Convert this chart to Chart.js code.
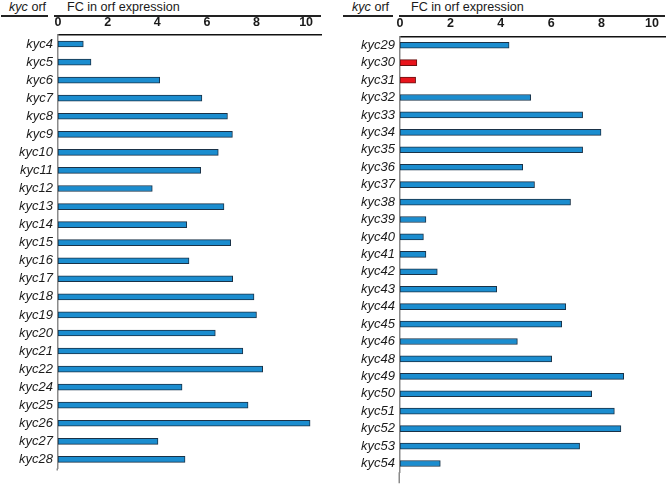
<!DOCTYPE html>
<html>
<head>
<meta charset="utf-8">
<script src="https://cdn.jsdelivr.net/npm/chart.js@4"></script>
<style>
  body { margin: 0; background: #fff; font-family: "Liberation Sans", Arial, sans-serif; color: #1a1a1a; }
  #wrap { position: relative; width: 666px; height: 485px; overflow: hidden; }
  .txt { position: absolute; top: 0px; font-size: 12.6px; white-space: nowrap; }
  .ln { position: absolute; top: 15px; height: 1.5px; background: #222; }
  canvas { position: absolute; top: 0; }
</style>
</head>
<body>
<div id="wrap">
  <span class="txt" style="left:9px"><i>kyc</i> orf</span>
  <div class="ln" style="left:1px;width:47px"></div>
  <span class="txt" style="left:67px">FC in orf expression</span>
  <div class="ln" style="left:54px;width:267px"></div>

  <span class="txt" style="left:352px"><i>kyc</i> orf</span>
  <div class="ln" style="left:343px;width:50px"></div>
  <span class="txt" style="left:411px">FC in orf expression</span>
  <div class="ln" style="left:399px;width:266px"></div>

  <canvas id="leftChart" width="330" height="485" style="left:0"></canvas>
  <canvas id="rightChart" width="326" height="485" style="left:340px"></canvas>
</div>
<script>
// left panel
const leftOrfs = ['kyc4', 'kyc5', 'kyc6', 'kyc7', 'kyc8', 'kyc9', 'kyc10', 'kyc11', 'kyc12', 'kyc13',
  'kyc14', 'kyc15', 'kyc16', 'kyc17', 'kyc18', 'kyc19', 'kyc20', 'kyc21', 'kyc22', 'kyc24',
  'kyc25', 'kyc26', 'kyc27', 'kyc28'];
const leftFC = [1.02, 1.33, 4.1, 5.8, 6.83, 7.03, 6.46, 5.75, 3.8, 6.69,
  5.19, 6.96, 5.28, 7.04, 7.9, 8.0, 6.34, 7.45, 8.25, 5.0,
  7.66, 10.16, 4.03, 5.12];

// right panel (kyc30 and kyc31 shown in red)
const rightOrfs = ['kyc29', 'kyc30', 'kyc31', 'kyc32', 'kyc33', 'kyc34', 'kyc35', 'kyc36', 'kyc37', 'kyc38',
  'kyc39', 'kyc40', 'kyc41', 'kyc42', 'kyc43', 'kyc44', 'kyc45', 'kyc46', 'kyc48', 'kyc49',
  'kyc50', 'kyc51', 'kyc52', 'kyc53', 'kyc54'];
const rightFC = [4.33, 0.67, 0.62, 5.19, 7.25, 7.98, 7.25, 4.87, 5.34, 6.77,
  1.03, 0.93, 1.03, 1.48, 3.84, 6.58, 6.42, 4.66, 6.02, 8.88,
  7.61, 8.51, 8.77, 7.13, 1.6];
const redOrfs = ['kyc30', 'kyc31'];

const tickValues = [0, 2, 4, 6, 8, 10];

const BLUE = '#1b8dcf', BLUE_EDGE = '#1a3247';
const RED = '#e8141c', RED_EDGE = '#6a1010';

// the grey y axis runs on a little below the last bar
const axisTail = {
  id: 'axisTail',
  afterDraw(chart, args, o) {
    const { ctx, chartArea } = chart;
    ctx.save();
    ctx.strokeStyle = '#8a8a8a';
    ctx.lineWidth = 1.5;
    ctx.beginPath();
    ctx.moveTo(chartArea.left - 0.75, chartArea.bottom);
    ctx.lineTo(chartArea.left - 0.75, chartArea.bottom + o.extra);
    ctx.stroke();
    ctx.restore();
  }
};

function makeChart(id, labels, values, opts) {
  return new Chart(document.getElementById(id), {
    type: 'bar',
    data: {
      labels: labels,
      datasets: [{
        data: values,
        backgroundColor: labels.map(l => redOrfs.includes(l) ? RED : BLUE),
        borderColor: labels.map(l => redOrfs.includes(l) ? RED_EDGE : BLUE_EDGE),
        borderWidth: 1,
        borderSkipped: false,
        barThickness: 6
      }]
    },
    plugins: [axisTail],
    options: {
      indexAxis: 'y',
      responsive: false,
      animation: false,
      layout: { padding: { top: 0, right: opts.right, bottom: opts.bottom, left: 0 } },
      plugins: { legend: { display: false }, tooltip: { enabled: false }, axisTail: { extra: opts.tail } },
      scales: {
        x: {
          position: 'top',
          min: 0,
          max: opts.max,
          afterFit: s => { s.height = opts.top; },
          afterBuildTicks: s => { s.ticks = tickValues.map(v => ({ value: v })); },
          grid: { display: false, drawTicks: false },
          border: { display: true, color: '#111', width: 1.5 },
          ticks: {
            padding: 5,
            color: '#1a1a1a',
            font: { family: 'Liberation Sans, Arial, sans-serif', size: 12.5, weight: 'bold' }
          }
        },
        y: {
          afterFit: s => { s.width = opts.left; },
          grid: { display: false, drawTicks: false },
          border: { display: true, color: '#8a8a8a', width: 1.5 },
          ticks: {
            autoSkip: false,
            padding: 5,
            color: '#1a1a1a',
            font: { family: 'Liberation Sans, Arial, sans-serif', size: 13, style: 'italic' }
          }
        }
      }
    }
  });
}

makeChart('leftChart', leftOrfs, leftFC, { left: 58, right: 9, top: 35, bottom: 16.6, max: 10.6, tail: 2 });
makeChart('rightChart', rightOrfs, rightFC, { left: 60, right: 1, top: 36.5, bottom: 11, max: 10.52, tail: 11 });
</script>
</body>
</html>
